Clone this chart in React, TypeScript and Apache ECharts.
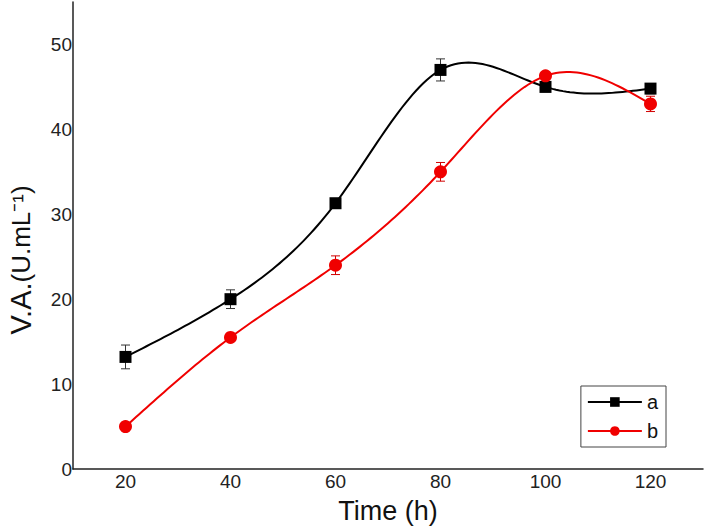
import React, { useEffect, useRef } from "react";
import * as echarts from "echarts";

const times = [20, 40, 60, 80, 100, 120];
const seriesA = [13.2, 20.0, 31.3, 47.0, 45.0, 44.8];
const errA = [1.4, 1.1, 0.5, 1.3, 0.5, 0.6];
const seriesB = [5.0, 15.5, 24.0, 35.0, 46.3, 43.0];
const errB = [0.5, 0.4, 1.1, 1.1, 0.4, 0.9];

const FONT = "Liberation Sans, Arial, sans-serif";

// natural cubic spline second derivatives (used only for drawing the curve)
function splineM(xs: number[], ys: number[]) {
  const n = xs.length;
  const a = new Array(n).fill(0);
  const b = new Array(n).fill(0);
  const c = new Array(n).fill(0);
  const d = new Array(n).fill(0);
  b[0] = 1;
  b[n - 1] = 1;
  for (let i = 1; i < n - 1; i++) {
    const h0 = xs[i] - xs[i - 1];
    const h1 = xs[i + 1] - xs[i];
    a[i] = h0 / 6;
    b[i] = (h0 + h1) / 3;
    c[i] = h1 / 6;
    d[i] = (ys[i + 1] - ys[i]) / h1 - (ys[i] - ys[i - 1]) / h0;
  }
  const cp = new Array(n).fill(0);
  const dp = new Array(n).fill(0);
  cp[0] = c[0] / b[0];
  dp[0] = d[0] / b[0];
  for (let i = 1; i < n; i++) {
    const m = b[i] - a[i] * cp[i - 1];
    cp[i] = c[i] / m;
    dp[i] = (d[i] - a[i] * dp[i - 1]) / m;
  }
  const M = new Array(n).fill(0);
  M[n - 1] = dp[n - 1];
  for (let i = n - 2; i >= 0; i--) M[i] = dp[i] - cp[i] * M[i + 1];
  return M;
}

function splineSeries(name: string, vals: number[], color: string) {
  const M = splineM(times, vals);
  return {
    type: "custom",
    name: name + "_curve",
    silent: true,
    z: 2,
    data: times.map((t, i) => [t, vals[i]]),
    renderItem: (params: any, api: any) => {
      const i = params.dataIndex;
      if (i >= times.length - 1) return null;
      const x0 = times[i];
      const x1 = times[i + 1];
      const h = x1 - x0;
      const pts: number[][] = [];
      const steps = 30;
      for (let k = 0; k <= steps; k++) {
        const x = x0 + (h * k) / steps;
        const A = (x1 - x) / h;
        const B = (x - x0) / h;
        const y =
          A * vals[i] +
          B * vals[i + 1] +
          ((A * A * A - A) * M[i] + (B * B * B - B) * M[i + 1]) * (h * h) / 6;
        pts.push(api.coord([x, y]));
      }
      return {
        type: "polyline",
        shape: { points: pts },
        style: { stroke: color, lineWidth: 2, fill: "none" },
      };
    },
  };
}

function errSeries(name: string, vals: number[], errs: number[], color: string) {
  const data = times.map((t, i) => [t, vals[i] - errs[i], vals[i] + errs[i]]);
  return {
    type: "custom",
    name: name + "_err",
    silent: true,
    z: 1,
    data,
    renderItem: (params: any, api: any) => {
      const x = api.value(0);
      const lo = api.coord([x, api.value(1)]);
      const hi = api.coord([x, api.value(2)]);
      const w = 4.5;
      const style = { stroke: color, lineWidth: 1 };
      return {
        type: "group",
        children: [
          { type: "line", shape: { x1: lo[0], y1: lo[1], x2: hi[0], y2: hi[1] }, style },
          { type: "line", shape: { x1: lo[0] - w, y1: lo[1], x2: lo[0] + w, y2: lo[1] }, style },
          { type: "line", shape: { x1: hi[0] - w, y1: hi[1], x2: hi[0] + w, y2: hi[1] }, style },
        ],
      };
    },
  };
}

export default function App() {
  const ref = useRef<HTMLDivElement>(null);
  useEffect(() => {
    const chart = echarts.init(ref.current!, null, { renderer: "svg" });
    chart.setOption({
      animation: false,
      backgroundColor: "#fff",
      grid: { left: 73, top: 2, right: 5, bottom: 62, containLabel: false, outerBoundsMode: "none" },
      legend: {
        right: 42,
        top: 386,
        orient: "vertical",
        data: [
          { name: "a", lineStyle: { opacity: 1, width: 2, color: "#000" } },
          { name: "b", lineStyle: { opacity: 1, width: 2, color: "#f00000" } },
        ],
        borderColor: "#444",
        borderWidth: 1,
        padding: [6, 8, 6, 6],
        itemGap: 9,
        itemWidth: 54,
        itemHeight: 12,
        textStyle: { fontFamily: FONT, fontSize: 20, color: "#111" },
      },
      xAxis: {
        type: "value",
        min: 10,
        max: 130,
        interval: 10,
        name: "Time (h)",
        nameLocation: "middle",
        nameGap: 28,
        nameTextStyle: { fontFamily: FONT, fontSize: 27, color: "#111" },
        axisLine: { lineStyle: { color: "#222", width: 1.5 } },
        axisTick: { show: false },
        splitLine: { show: false },
        axisLabel: {
          fontFamily: FONT,
          fontSize: 19,
          color: "#222",
          margin: 3,
          formatter: (v: number) => (v % 20 === 0 && v >= 20 && v <= 120 ? String(v) : ""),
        },
      },
      yAxis: {
        type: "value",
        min: 0,
        max: 55,
        interval: 10,
        name: "{big|V.A.}{small|(U.mL⁻¹)}",
        nameLocation: "middle",
        nameGap: 38,
        nameTextStyle: {
          fontFamily: FONT,
          color: "#111",
          padding: [0, 49, 0, 0],
          rich: {
            big: { fontFamily: FONT, fontSize: 29, color: "#111" },
            small: { fontFamily: FONT, fontSize: 26, color: "#111" },
          },
        },
        axisLine: { show: true, lineStyle: { color: "#222", width: 1.5 } },
        axisTick: { show: false },
        splitLine: { show: false },
        axisLabel: { fontFamily: FONT, fontSize: 19, color: "#222", margin: 1, showMaxLabel: false },
      },
      series: [
        errSeries("a", seriesA, errA, "#333"),
        errSeries("b", seriesB, errB, "#d00000"),
        splineSeries("a", seriesA, "#000"),
        splineSeries("b", seriesB, "#f00000"),
        {
          type: "line",
          name: "a",
          data: times.map((t, i) => [t, seriesA[i]]),
          symbol: "rect",
          symbolSize: 12,
          z: 3,
          lineStyle: { color: "#000", width: 2, opacity: 0 },
          itemStyle: { color: "#000" },
        },
        {
          type: "line",
          name: "b",
          data: times.map((t, i) => [t, seriesB[i]]),
          symbol: "circle",
          symbolSize: 13,
          z: 3,
          lineStyle: { color: "#f00000", width: 2, opacity: 0 },
          itemStyle: { color: "#f00000" },
        },
      ],
    });
    return () => chart.dispose();
  }, []);
  return <div ref={ref} style={{ width: 708, height: 531, position: "absolute", left: 0, top: 0 }} />;
}
